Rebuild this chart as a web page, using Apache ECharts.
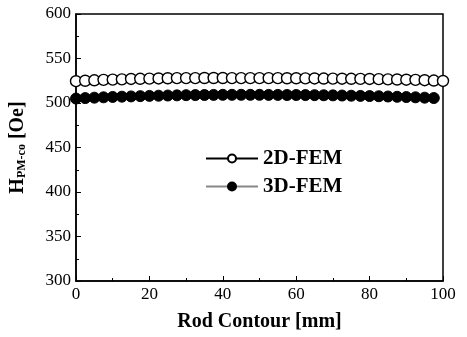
<!DOCTYPE html>
<html>
<head>
<meta charset="utf-8">
<script src="https://cdn.jsdelivr.net/npm/echarts@6/dist/echarts.min.js"></script>
<style>
  html, body { margin: 0; padding: 0; background: #fff; }
  #main { width: 467px; height: 337px; }
</style>
</head>
<body>
<div id="main"></div>
<script>
// rod contour positions [mm]
const pos2D = [0, 2.5, 5, 7.5, 10, 12.5, 15, 17.5, 20, 22.5, 25, 27.5, 30, 32.5, 35, 37.5, 40, 42.5, 45, 47.5, 50,
  52.5, 55, 57.5, 60, 62.5, 65, 67.5, 70, 72.5, 75, 77.5, 80, 82.5, 85, 87.5, 90, 92.5, 95, 97.5, 100]
const val2D = [524.5, 525, 525.5, 526, 526.3, 526.6, 527, 527.2, 527.4, 527.6, 527.8, 528, 528, 528, 528.1, 528.1, 528.1, 528, 528, 528, 528,
  527.9, 527.9, 527.8, 527.8, 527.7, 527.6, 527.5, 527.4, 527.3, 527.2, 527.1, 527, 526.8, 526.6, 526.4, 526.2, 526, 525.6, 525.2, 524.8]

const pos3D = [0, 2.5, 5, 7.5, 10, 12.5, 15, 17.5, 20, 22.5, 25, 27.5, 30, 32.5, 35, 37.5, 40, 42.5, 45, 47.5,
  50, 52.5, 55, 57.5, 60, 62.5, 65, 67.5, 70, 72.5, 75, 77.5, 80, 82.5, 85, 87.5, 90, 92.5, 95, 97.5]
const val3D = [505, 505.5, 506, 506.4, 506.8, 507.1, 507.4, 507.7, 508, 508.2, 508.4, 508.6, 508.8, 508.9, 509, 509.1, 509.2, 509.2, 509.2, 509.2,
  509.2, 509.1, 509.1, 509, 509, 508.9, 508.8, 508.7, 508.6, 508.4, 508.2, 508, 507.8, 507.6, 507.3, 507, 506.7, 506.4, 506, 505.6]

const seriesNames = ['2D-FEM', '3D-FEM']

const serif = '"Liberation Serif", "DejaVu Serif", serif'

let myChart = echarts.init(document.getElementById('main'))
myChart.setOption({
  animation: false,
  grid: {
    left: 75,
    right: 24,
    top: 14,
    bottom: 51,
    show: true,
    borderColor: '#000',
    borderWidth: 1.5
  },
  legend: {
    data: seriesNames,
    orient: 'vertical',
    left: 200,
    top: 143,
    itemWidth: 52,
    itemHeight: 10,
    itemGap: 7,
    textStyle: {
      fontFamily: serif,
      fontWeight: 'bold',
      fontSize: 21,
      color: '#000'
    }
  },
  xAxis: {
    type: 'value',
    min: 0,
    max: 100,
    interval: 20,
    name: 'Rod Contour [mm]',
    nameLocation: 'middle',
    nameGap: 31,
    nameTextStyle: {
      fontFamily: serif,
      fontWeight: 'bold',
      fontSize: 20,
      color: '#000'
    },
    axisLine: { lineStyle: { color: '#000', width: 1.5 } },
    axisTick: { inside: true, length: 5, lineStyle: { color: '#000' } },
    minorTick: { show: true, splitNumber: 2, length: 3, lineStyle: { color: '#000' } },
    splitLine: { show: false },
    axisLabel: {
      fontFamily: serif,
      fontSize: 17,
      color: '#000',
      margin: 5
    }
  },
  yAxis: {
    type: 'value',
    min: 300,
    max: 600,
    interval: 50,
    name: '{h|H}{sub|PM-co}{h| [Oe]}',
    nameLocation: 'middle',
    nameRotate: 90,
    nameGap: 48,
    nameTextStyle: {
      rich: {
        h: { fontFamily: serif, fontWeight: 'bold', fontSize: 20, color: '#000' },
        sub: { fontFamily: serif, fontWeight: 'bold', fontSize: 12, color: '#000', verticalAlign: 'bottom', padding: [8, 0, 0, 0] }
      }
    },
    axisLine: { show: true, lineStyle: { color: '#000', width: 1.5 } },
    axisTick: { show: true, inside: true, length: 5, lineStyle: { color: '#000' } },
    minorTick: { show: true, splitNumber: 2, length: 3, lineStyle: { color: '#000' } },
    splitLine: { show: false },
    axisLabel: {
      fontFamily: serif,
      fontSize: 17,
      color: '#000',
      margin: 5
    }
  },
  series: [
    {
      name: seriesNames[0],
      type: 'line',
      data: pos2D.map((x, i) => [x, val2D[i]]),
      symbol: 'circle',
      symbolSize: 11,
      showSymbol: true,
      lineStyle: { color: '#000', width: 1 },
      itemStyle: { color: '#fff', borderColor: '#000', borderWidth: 1.4 }
    },
    {
      name: seriesNames[1],
      type: 'line',
      data: pos3D.map((x, i) => [x, val3D[i]]),
      symbol: 'circle',
      symbolSize: 11,
      showSymbol: true,
      lineStyle: { color: '#888', width: 1.2 },
      itemStyle: { color: '#000', borderColor: '#000', borderWidth: 1 }
    }
  ]
})
</script>
</body>
</html>
